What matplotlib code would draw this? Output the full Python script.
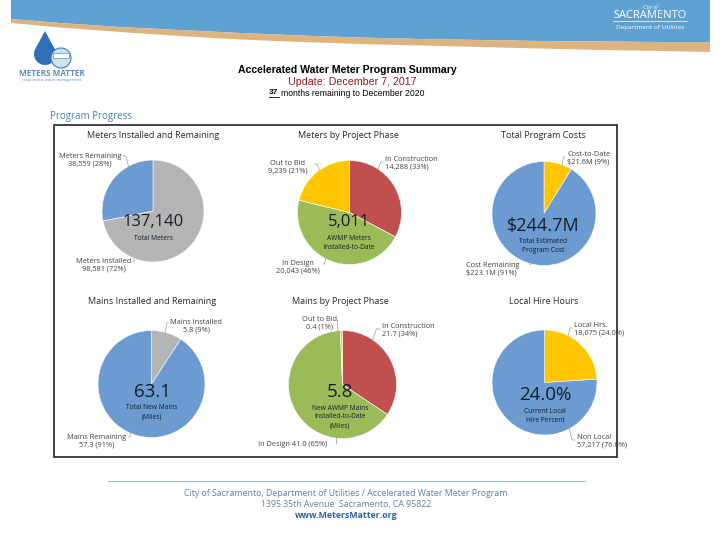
import matplotlib
matplotlib.use("Agg")
import matplotlib.pyplot as plt
from matplotlib.patches import Polygon, Circle, Rectangle
import numpy as np

# ---------------- data ----------------
meters_labels = ["Meters Installed", "Meters Remaining"]
meters_values = [98581, 38559]

meters_phase_labels = ["In Construction", "In Design", "Out to Bid"]
meters_phase_values = [14288, 20043, 9239]
meters_installed_to_date = 5011

cost_labels = ["Cost-to-Date", "Cost Remaining"]
cost_values = [21.6, 223.1]          # $M

mains_labels = ["Mains Installed", "Mains Remaining"]
mains_values = [5.8, 57.3]           # miles

mains_phase_labels = ["In Construction", "In Design", "Out to Bid"]
mains_phase_values = [21.7, 41.0, 0.4]

hire_labels = ["Local Hrs.", "Non Local"]
hire_values = [18075, 57217]

months_remaining = 37

# ---------------- colours ----------------
BLUE = "#6c9bd2"
GRAY = "#b4b4b4"
RED = "#c0504d"
GREEN = "#9bbb59"
YELLOW = "#ffc600"
LBL = "#404040"
CTR = "#141e2a"

W, H = 720, 540
fig = plt.figure(figsize=(7.2, 5.4), dpi=100)
fig.patch.set_facecolor("white")

ov = fig.add_axes([0, 0, 1, 1])
ov.set_xlim(0, W)
ov.set_ylim(H, 0)
ov.axis("off")
ov.set_zorder(5)
ov.patch.set_visible(False)

PF = ["Open Sans", "DejaVu Sans"]

# ---------------- banner ----------------
bx = np.array([11, 60, 120, 180, 240, 300, 360, 420, 480, 540, 600, 660, 710])
blue_bot = np.array([19, 23, 27, 30, 33, 35.5, 37.5, 39, 40, 41, 41.5, 42, 42])
tan_bot = np.array([23, 27.5, 32, 36, 39.5, 42, 44, 45.5, 47, 48.5, 50, 51, 52])
ov.add_patch(Polygon([(11, 0), (710, 0)] + list(zip(bx[::-1], blue_bot[::-1])),
                     closed=True, fc="#5ea2d3", ec="none"))
ov.add_patch(Polygon(list(zip(bx, blue_bot)) + list(zip(bx[::-1], tan_bot[::-1])),
                     closed=True, fc="#ddb47f", ec="none"))
ov.text(650, 7, "City of", color="white", fontsize=4, style="italic",
        ha="center", va="center", family="Liberation Serif")
ov.text(650, 16, "SACRAMENTO", color="white", fontsize=8, ha="center",
        va="center", family=PF)
ov.plot([613, 687], [21, 21], color="white", lw=0.5)
ov.text(650, 27, "Department of Utilities", color="white", fontsize=4.6,
        ha="center", va="center", family=PF)

# ---------------- logo ----------------
cx_d, cy_d, rd = 45, 54, 11
th = np.radians(np.linspace(-25, 205, 60))
drop = [(cx_d + rd * np.cos(t), cy_d + rd * np.sin(t)) for t in th] + [(cx_d, 31)]
ov.add_patch(Polygon(drop, closed=True, fc="#2f6fb6", ec="none"))
ov.add_patch(Circle((61, 58), 10, fc="#cfe2f1", ec="#3d7cc0", lw=0.8))
ov.add_patch(Rectangle((53, 53), 16, 5, fc="white", ec="#3d7cc0", lw=0.4))
ov.text(52, 74, "METERS MATTER", color="#5a8fc3", fontsize=5.9, weight="bold",
        ha="center", va="center", family=PF)
ov.text(52, 80, "responsible water management", color="#5a8fc3", fontsize=2.9,
        ha="center", va="center", family=PF)

# ---------------- header text ----------------
NARROW = ["Liberation Sans Narrow", "Liberation Sans", "DejaVu Sans"]
ov.text(347, 70, "Accelerated Water Meter Program Summary", fontsize=7.6,
        weight="bold", ha="center", va="center", family=NARROW)
ov.text(352, 82, "Update: December 7, 2017", fontsize=7.7, color="#8b1c1c",
        ha="center", va="center", family=NARROW)
ov.text(273.5, 93, str(months_remaining), fontsize=6.0, weight="bold",
        ha="center", va="center", family=NARROW)
ov.plot([268.5, 278.5], [97, 97], color="black", lw=0.6)
ov.text(281, 93, "months remaining to December 2020", fontsize=6.2,
        ha="left", va="center", family=NARROW)
ov.text(50, 116, "Program Progress", fontsize=7, color="#4a7cb0",
        ha="left", va="center", family=PF)

# ---------------- frame ----------------
ov.add_patch(Rectangle((54, 125), 563, 332, fc="none", ec="#222222", lw=1.2))


# ---------------- pies ----------------
def draw_pie(cx, cy, r, values, colors):
    ax = fig.add_axes([(cx - r) / W, 1 - (cy + r) / H, 2 * r / W, 2 * r / H])
    wedges, _ = ax.pie(values, colors=colors, startangle=90, counterclock=False,
                       radius=1, wedgeprops=dict(linewidth=0.4, edgecolor="white"))
    for w in wedges:
        w.set_clip_on(False)
    ax.set_xlim(-1, 1)
    ax.set_ylim(-1, 1)
    ax.axis("off")
    return ax


def pct(v, vals, dec=0):
    return f"{100 * v / sum(vals):.{dec}f}%"


def label(x, y, text, ha, pie, anchor, lines=True):
    ov.text(x, y, text, fontsize=5.3, color=LBL, ha=ha, va="center",
            family=PF, linespacing=1.15, multialignment="center" if ha == "center" else ha)
    if lines:
        cx, cy, r = pie
        ax_, ay_ = anchor
        d = np.hypot(ax_ - cx, ay_ - cy)
        ex, ey = cx + (ax_ - cx) * r / d, cy + (ay_ - cy) * r / d
        ov.plot([ax_, ax_ + (ex - ax_) * 0.5, ex], [ay_, ay_, ey],
                color="#9a9a9a", lw=0.5)


def title(x, y, text):
    ov.text(x, y, text, fontsize=6.5, color="#262626", ha="center",
            va="center", family=PF)


def center(x, y, big, small, bsize=11.5, dy=16, ssize=4.8):
    ov.text(x, y, big, fontsize=bsize, color=CTR, ha="center", va="center",
            family=PF)
    ov.text(x, y + dy, small, fontsize=ssize, color=CTR, ha="center",
            va="center", family=PF, linespacing=1.4)


# 1 Meters installed and remaining
P1 = (153, 211, 51)
draw_pie(*P1, meters_values, [GRAY, BLUE])
title(153, 135, "Meters Installed and Remaining")
center(153, 222, f"{sum(meters_values):,}", "Total Meters", bsize=12, dy=16)
label(90, 160, f"{meters_labels[1]}\n{meters_values[1]:,} ({pct(meters_values[1], meters_values)})",
      "center", P1, (123, 156))
label(104, 265, f"{meters_labels[0]}\n{meters_values[0]:,} ({pct(meters_values[0], meters_values)})",
      "center", P1, (133, 262))

# 2 Meters by project phase
P2 = (349.5, 212.5, 52)
draw_pie(*P2, meters_phase_values, [RED, GREEN, YELLOW])
title(348, 135, "Meters by Project Phase")
center(349, 222, f"{meters_installed_to_date:,}", "AWMP Meters\nInstalled-to-Date",
       bsize=12, dy=21)
label(288, 167, f"{meters_phase_labels[2]}\n{meters_phase_values[2]:,} ({pct(meters_phase_values[2], meters_phase_values)})",
      "center", P2, (315, 164))
label(385, 163, f"{meters_phase_labels[0]}\n{meters_phase_values[0]:,} ({pct(meters_phase_values[0], meters_phase_values)})",
      "left", P2, (383, 162))
label(298, 267, f"{meters_phase_labels[1]}\n{meters_phase_values[1]:,} ({pct(meters_phase_values[1], meters_phase_values)})",
      "center", P2, (323, 264))

# 3 Total program costs
P3 = (544, 213.5, 52)
draw_pie(*P3, cost_values, [YELLOW, BLUE])
title(543, 135, "Total Program Costs")
center(543, 226, f"${sum(cost_values):.1f}M", "Total Estimated\nProgram Cost",
       bsize=13, dy=20)
label(567, 158, f"{cost_labels[0]}\n${cost_values[0]:.1f}M ({pct(cost_values[0], cost_values)})",
      "left", P3, (565, 157))
label(466, 269, f"{cost_labels[1]}\n${cost_values[1]:.1f}M ({pct(cost_values[1], cost_values)})",
      "left", P3, (530, 265))

# 4 Mains installed and remaining
P4 = (151.5, 384, 53.5)
draw_pie(*P4, mains_values, [GRAY, BLUE])
title(152, 302, "Mains Installed and Remaining")
center(152, 392, f"{sum(mains_values):.1f}", "Total New Mains\n(Miles)",
       bsize=13.5, dy=20)
label(196, 326, f"{mains_labels[0]}\n{mains_values[0]:.1f} ({pct(mains_values[0], mains_values)})",
      "center", P4, (168, 323))
label(97, 441, f"{mains_labels[1]}\n{mains_values[1]:.1f} ({pct(mains_values[1], mains_values)})",
      "center", P4, (129, 437))

# 5 Mains by project phase
P5 = (342.5, 384.5, 54)
draw_pie(*P5, mains_phase_values, [RED, GREEN, YELLOW])
title(340, 301, "Mains by Project Phase")
center(340, 392, f"{mains_values[0]:.1f}",
       "New AWMP Mains\nInstalled-to-Date\n(Miles)", bsize=13.5, dy=25)
label(320, 323, f"{mains_phase_labels[2]}\n{mains_phase_values[2]:.1f} ({pct(mains_phase_values[2], mains_phase_values)})",
      "center", P5, (337, 320))
label(382, 330, f"{mains_phase_labels[0]}\n{mains_phase_values[0]:.1f} ({pct(mains_phase_values[0], mains_phase_values)})",
      "left", P5, (380, 329))
label(258, 444, f"{mains_phase_labels[1]} {mains_phase_values[1]:.1f} ({pct(mains_phase_values[1], mains_phase_values)})",
      "left", P5, (336, 444))

# 6 Local hire hours
P6 = (544.5, 382.5, 52.5)
draw_pie(*P6, hire_values, [YELLOW, BLUE])
title(544, 302, "Local Hire Hours")
center(545, 395, pct(hire_values[0], hire_values, 1), "Current Local\nHire Percent",
       bsize=13.5, dy=21)
label(574, 329, f"{hire_labels[0]}\n{hire_values[0]:,} ({pct(hire_values[0], hire_values, 1)})",
      "left", P6, (572, 328))
label(577, 441, f"{hire_labels[1]}\n{hire_values[1]:,} ({pct(hire_values[1], hire_values, 1)})",
      "left", P6, (575, 440))

# ---------------- footer ----------------
ov.plot([108, 585], [481, 481], color="#9cbcd0", lw=0.8)
ov.text(346, 493, "City of Sacramento, Department of Utilities / Accelerated Water Meter Program",
        fontsize=6.3, color="#5e7f9c", ha="center", va="center", family=PF)
ov.text(346, 504.5, "1395 35th Avenue  Sacramento, CA 95822",
        fontsize=6.3, color="#5e7f9c", ha="center", va="center", family=PF)
ov.text(346, 515.5, "www.MetersMatter.org", fontsize=6.3, weight="bold",
        color="#2f62a0", ha="center", va="center", family=PF)

fig.savefig("out.png", dpi=100)
